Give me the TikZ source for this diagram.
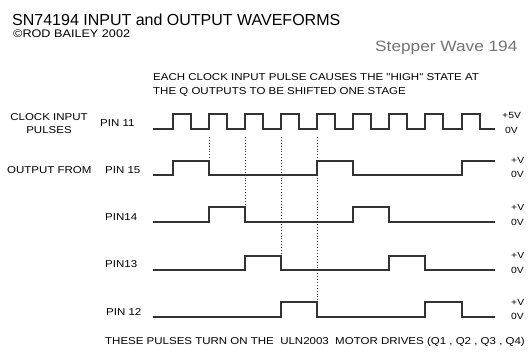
\documentclass[tikz,border=0pt]{standalone}
\usepackage{fontspec}
\setmainfont{Liberation Sans}
\newfontfamily\widefont{Liberation Sans}[FakeStretch=1.15]
\tikzset{
  lbl/.style={inner sep=0pt,anchor=west,font=\widefont\fontsize{10}{12}\selectfont},
  volt/.style={inner sep=0pt,anchor=west,font=\widefont\fontsize{9}{10}\selectfont},
  wave/.style={line width=1.3pt,black!80},
  mark line/.style={dotted,line width=0.9pt,black!80}
}
\begin{document}
\begin{tikzpicture}[x=1pt,y=-1pt]
\useasboundingbox (0,0) rectangle (530,352);
% heading
\node[inner sep=0pt,anchor=west,font=\fontsize{16}{18}\selectfont] (title) at (12,20) {SN74194 INPUT and OUTPUT WAVEFORMS};
\node[lbl,font=\widefont\fontsize{11}{12}\selectfont] (owner) at (13,34) {\textcopyright ROD BAILEY 2002};
\node[lbl,font=\widefont\fontsize{15}{17}\selectfont,black!55] (sheet) at (375,48) {Stepper Wave 194};
\node[lbl] (note1) at (153,77) {EACH CLOCK INPUT PULSE CAUSES THE "HIGH" STATE AT};
\node[lbl] (note2) at (153,92) {THE Q OUTPUTS TO BE SHIFTED ONE STAGE};
% left labels
\node[lbl,anchor=center] (clk) at (49,117) {CLOCK INPUT};
\node[lbl,anchor=center] (pulses) at (49,130) {PULSES};
\node[lbl] (pin11) at (100,123) {PIN 11};
\node[lbl] (outfrom) at (7,170) {OUTPUT FROM};
\node[lbl] (pin15) at (105,170) {PIN 15};
\node[lbl] (pin14) at (105,217) {PIN14};
\node[lbl] (pin13) at (105,264) {PIN13};
\node[lbl] (pin12) at (106,312) {PIN 12};
% right labels
\node[volt] (hi11) at (502,115) {+5V};
\node[volt] (lo11) at (505,130) {0V};
\node[volt] (hi15) at (511,160) {+V};
\node[volt] (lo15) at (511,174) {0V};
\node[volt] (hi14) at (511,207) {+V};
\node[volt] (lo14) at (511,222) {0V};
\node[volt] (hi13) at (511,255) {+V};
\node[volt] (lo13) at (511,270) {0V};
\node[volt] (hi12) at (511,302) {+V};
\node[volt] (lo12) at (511,316) {0V};
% clock
\draw[wave] (153,129) -- (173,129)
  \foreach \r in {173,209,245,281,317,353,389,425,462} {
    -- (\r,129) -- (\r,114) -- (\r+18,114) -- (\r+18,129) }
  -- (495,129);
% outputs
\draw[wave] (153,175) -- (173,175) -- (173,161) -- (209,161) -- (209,175) -- (317,175) -- (317,161) -- (353,161) -- (353,175) -- (462,175) -- (462,161) -- (495,161);
\draw[wave] (153,222) -- (209,222) -- (209,207) -- (245,207) -- (245,222) -- (353,222) -- (353,207) -- (389,207) -- (389,222) -- (495,222);
\draw[wave] (153,270) -- (245,270) -- (245,256) -- (281,256) -- (281,270) -- (389,270) -- (389,256) -- (425,256) -- (425,270) -- (495,270);
\draw[wave] (153,317) -- (281,317) -- (281,302) -- (317,302) -- (317,317) -- (425,317) -- (425,302) -- (462,302) -- (462,317) -- (495,317);
% shift markers
\draw[mark line] (209,137) -- (209,160);
\draw[mark line] (245,137) -- (245,206);
\draw[mark line] (281,137) -- (281,255);
\draw[mark line] (317,137) -- (317,301);
\node[lbl] (bottom) at (105,342) {THESE PULSES TURN ON THE \ ULN2003 \ MOTOR DRIVES (Q1 , Q2 , Q3 , Q4)};
\end{tikzpicture}
\end{document}
